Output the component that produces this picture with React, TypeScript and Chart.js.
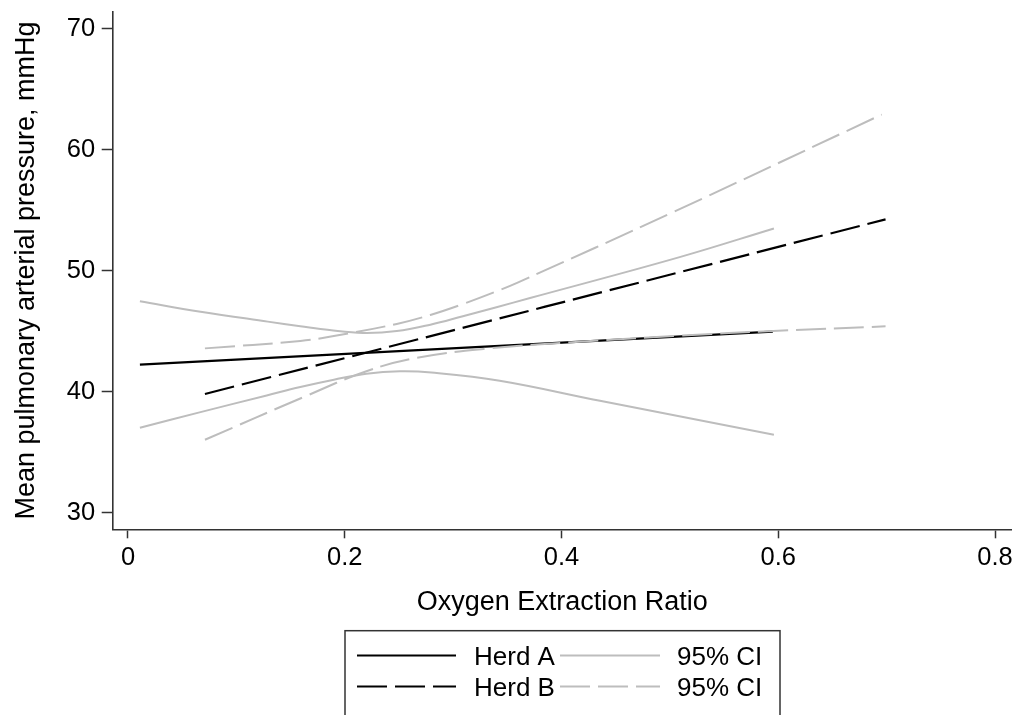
import React, { useEffect, useRef } from "react";
import { Chart, registerables } from "chart.js";

Chart.register(...registerables);

// ---- data ----
const xTicks = [0, 0.2, 0.4, 0.6, 0.8];
const xTickLabels = ["0", "0.2", "0.4", "0.6", "0.8"];
const yTicks = [30, 40, 50, 60, 70];
const yTickLabels = ["30", "40", "50", "60", "70"];

const xTitle = "Oxygen Extraction Ratio";
const yTitle = "Mean pulmonary arterial pressure, mmHg";
const legendLabels = ["Herd A", "95% CI", "Herd B", "95% CI"];

const herdAX = [0.011, 0.595];
const herdAY = [42.24, 44.98];

const herdBX = [0.071, 0.699];
const herdBY = [39.82, 54.25];

const ciAUpperX = [0.011, 0.067, 0.129, 0.159, 0.186, 0.217, 0.248, 0.279, 0.309, 0.34, 0.371, 0.509, 0.596];
const ciAUpperY = [47.48, 46.62, 45.8, 45.42, 45.1, 44.87, 45.02, 45.55, 46.25, 46.99, 47.75, 51.13, 53.5];

const ciALowerX = [0.011, 0.066, 0.128, 0.159, 0.19, 0.22, 0.251, 0.28, 0.343, 0.4355, 0.596];
const ciALowerY = [37.03, 38.3, 39.7, 40.4, 41.0, 41.5, 41.7, 41.6, 40.92, 39.26, 36.45];

const ciBUpperX = [0.071, 0.159, 0.186, 0.248, 0.279, 0.309, 0.34, 0.359, 0.503, 0.6955];
const ciBUpperY = [43.59, 44.2, 44.55, 45.61, 46.35, 47.25, 48.3, 49.0, 54.85, 62.91];

const ciBLowerX = [0.071, 0.165, 0.22, 0.266, 0.328, 0.42, 0.509, 0.6, 0.699];
const ciBLowerY = [36.04, 39.68, 41.7, 42.8, 43.54, 44.15, 44.64, 45.05, 45.41];

// ---- styling ----
const FONT = "'Liberation Sans', Arial, Helvetica, sans-serif";
const BLACK = "#000000";
const GRAY = "#bdbdbd";
const AXIS = "#333333";
const DASH = [30, 8];

const toPts = (xs: number[], ys: number[]) => xs.map((x, i) => ({ x, y: ys[i] }));

const legendPlugin = {
  id: "stataLegend",
  afterDraw(chart: any) {
    const ctx = chart.ctx as CanvasRenderingContext2D;
    const rows = [
      [0, 1],
      [3, 4],
    ];
    const rowY = [655.5, 686.5];
    const lineStart = [357, 560];
    const lineEnd = [456, 660];
    const textX = [474, 677];
    ctx.save();
    ctx.strokeStyle = AXIS;
    ctx.lineWidth = 1.5;
    ctx.setLineDash([]);
    ctx.strokeRect(345, 630.7, 435, 120);
    rows.forEach((row, r) => {
      const cy = rowY[r];
      row.forEach((di, c) => {
        const ds = chart.data.datasets[di];
        ctx.strokeStyle = ds.borderColor;
        ctx.lineWidth = ds.borderWidth;
        ctx.setLineDash(ds.borderDash || []);
        ctx.lineCap = "butt";
        ctx.beginPath();
        ctx.moveTo(lineStart[c], cy);
        ctx.lineTo(lineEnd[c], cy);
        ctx.stroke();
        ctx.setLineDash([]);
        ctx.fillStyle = "#000";
        ctx.font = `26px ${FONT}`;
        ctx.textBaseline = "alphabetic";
        ctx.textAlign = "left";
        ctx.fillText(ds.label, textX[c], cy + 9.3);
      });
    });
    ctx.restore();
  },
};

export default function App() {
  const ref = useRef<HTMLCanvasElement>(null);

  useEffect(() => {
    if (!ref.current) return;
    const common = {
      pointRadius: 0,
      pointHoverRadius: 0,
      fill: false,
      tension: 0.4,
      borderCapStyle: "butt" as const,
    };
    const chart = new Chart(ref.current, {
      type: "line",
      data: {
        datasets: [
          { ...common, label: legendLabels[0], data: toPts(herdAX, herdAY), borderColor: BLACK, borderWidth: 2.2, order: 4 },
          { ...common, label: legendLabels[1], data: toPts(ciAUpperX, ciAUpperY), borderColor: GRAY, borderWidth: 2, order: 6 },
          { ...common, label: legendLabels[1], data: toPts(ciALowerX, ciALowerY), borderColor: GRAY, borderWidth: 2, order: 5 },
          { ...common, label: legendLabels[2], data: toPts(herdBX, herdBY), borderColor: BLACK, borderWidth: 2.2, borderDash: DASH, order: 1 },
          { ...common, label: legendLabels[3], data: toPts(ciBUpperX, ciBUpperY), borderColor: GRAY, borderWidth: 2, borderDash: DASH, order: 3 },
          { ...common, label: legendLabels[3], data: toPts(ciBLowerX, ciBLowerY), borderColor: GRAY, borderWidth: 2, borderDash: DASH, order: 2 },
        ] as any,
      },
      options: {
        responsive: false,
        animation: false,
        devicePixelRatio: 1,
        parsing: false,
        layout: { padding: { left: 0, top: 11.7, right: 5.3, bottom: 0 } },
        plugins: { legend: { display: false }, tooltip: { enabled: false } },
        scales: {
          x: {
            type: "linear",
            min: -0.0141,
            max: 0.8154,
            afterBuildTicks: (s: any) => {
              s.ticks = xTicks.map((v) => ({ value: v }));
            },
            afterFit: (s: any) => {
              s.height = 185.7;
              s.paddingLeft = 0;
              s.paddingRight = 0;
            },
            ticks: {
              callback: (_v: any, i: number) => xTickLabels[i],
              font: { family: FONT, size: 25.5 },
              color: "#000",
              padding: 4,
              maxRotation: 0,
              autoSkip: false,
            },
            grid: {
              drawOnChartArea: false,
              drawTicks: true,
              tickLength: 9,
              tickColor: AXIS,
              tickWidth: 1.5,
              color: AXIS,
            },
            border: { display: true, color: AXIS, width: 1.6 },
            title: {
              display: true,
              text: xTitle,
              font: { family: FONT, size: 27 },
              color: "#000",
              padding: { top: 0, bottom: 96 },
            },
          },
          y: {
            type: "linear",
            min: 28.64,
            max: 71.41,
            afterBuildTicks: (s: any) => {
              s.ticks = yTicks.map((v) => ({ value: v }));
            },
            afterFit: (s: any) => {
              s.width = 112.7;
              s.paddingTop = 0;
              s.paddingBottom = 0;
            },
            ticks: {
              callback: (_v: any, i: number) => yTickLabels[i],
              font: { family: FONT, size: 25.5 },
              color: "#000",
              padding: 6.5,
              autoSkip: false,
            },
            grid: {
              drawOnChartArea: false,
              drawTicks: true,
              tickLength: 11,
              tickColor: AXIS,
              tickWidth: 1.5,
              color: AXIS,
            },
            border: { display: true, color: AXIS, width: 1.6 },
            title: {
              display: true,
              text: yTitle,
              font: { family: FONT, size: 27 },
              color: "#000",
              padding: { top: 10, bottom: 0 },
            },
          },
        },
      },
      plugins: [legendPlugin],
    });
    return () => chart.destroy();
  }, []);

  return (
    <div style={{ position: "fixed", left: 0, top: 0, width: 1017, height: 715, background: "#fff" }}>
      <canvas ref={ref} width={1017} height={715} style={{ display: "block" }} />
    </div>
  );
}
